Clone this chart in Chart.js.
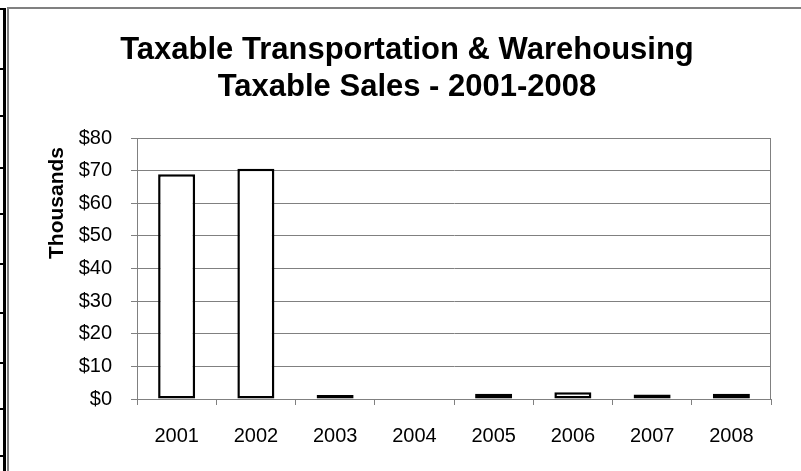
<!DOCTYPE html>
<html lang="en">
  <head>
    <meta charset="UTF-8" />
    <title>Taxable Transportation & Warehousing</title>
    <script src="https://cdn.jsdelivr.net/npm/chart.js"></script>
    <style>
      html, body {
        margin: 0;
        padding: 0;
        width: 801px;
        height: 471px;
        overflow: hidden;
        background: #fff;
      }
      #frame {
        position: absolute;
        left: 7px;
        top: 7px;
        border-top: 2px solid #808080;
        border-left: 2px solid #808080;
        width: 796px;
        height: 470px;
      }
      #rowline {
        position: absolute;
        left: 3px;
        top: 8px;
        width: 3px;
        height: 470px;
        background: #000;
      }
      .rowtick {
        position: absolute;
        left: 0;
        width: 6px;
        height: 2px;
        background: #000;
      }
    </style>
  </head>
  <body>
    <div id="rowline"></div>
    <div id="frame">
      <canvas id="salesChart" width="796" height="462"></canvas>
    </div>
    <script>
      // chart data
      const years = ["2001", "2002", "2003", "2004", "2005", "2006", "2007", "2008"];
      const sales = [68.9, 70.6, 1.2, 0, 1.6, 2.1, 1.4, 1.6]; // thousands of $
      const titleLines = ["Taxable Transportation & Warehousing", "Taxable Sales - 2001-2008"];
      const unitLabel = "Thousands";

      // spreadsheet row marks on the left edge
      const rowTicks = [8, 68, 115, 167, 213, 263, 312, 362, 408, 455];
      rowTicks.forEach(function (y) {
        const d = document.createElement("div");
        d.className = "rowtick";
        d.style.top = y + "px";
        document.body.appendChild(d);
      });

      const fontFamily = "'Liberation Sans', Arial, sans-serif";

      // plot border + "Thousands" label
      const extras = {
        id: "extras",
        beforeDatasetsDraw(chart) {
          const a = chart.chartArea;
          const c = chart.ctx;
          c.save();
          c.strokeStyle = "#808080";
          c.lineWidth = 1;
          c.strokeRect(a.left + 0.5, a.top + 0.5, a.right - a.left - 1, a.bottom - a.top);
          c.restore();
        },
        afterDraw(chart) {
          const c = chart.ctx;
          c.save();
          c.translate(48, 194);
          c.rotate(-Math.PI / 2);
          c.font = "bold 21px " + fontFamily;
          c.fillStyle = "#000";
          c.textAlign = "center";
          c.textBaseline = "middle";
          c.fillText(unitLabel, 0, 0);
          c.restore();
        },
      };

      const ctx = document.getElementById("salesChart").getContext("2d");
      new Chart(ctx, {
        type: "bar",
        data: {
          labels: years,
          datasets: [
            {
              data: sales,
              backgroundColor: "#fff",
              borderColor: "#000",
              borderWidth: 2.5,
              borderSkipped: false,
              barPercentage: 0.467,
              categoryPercentage: 1,
            },
          ],
        },
        options: {
          responsive: false,
          animation: false,
          layout: { padding: { left: 34, right: 34, top: 0, bottom: 0 } },
          plugins: {
            legend: { display: false },
            tooltip: { enabled: false },
            title: {
              display: true,
              text: titleLines,
              color: "#000",
              font: { family: fontFamily, size: 31, weight: "bold", lineHeight: "37px" },
              padding: { top: 23, bottom: 32 },
            },
          },
          scales: {
            x: {
              grid: {
                offset: true,
                drawOnChartArea: false,
                color: "#808080",
                tickLength: 6,
              },
              border: { color: "#808080", width: 1 },
              ticks: {
                color: "#000",
                padding: 19,
                font: { family: fontFamily, size: 20 },
                maxRotation: 0,
              },
              afterFit(scale) {
                scale.height = 72;
              },
            },
            y: {
              min: 0,
              max: 80,
              grid: { color: "#808080", tickLength: 6 },
              border: { color: "#606060", width: 1 },
              ticks: {
                stepSize: 10,
                color: "#000",
                padding: 19,
                font: { family: fontFamily, size: 20 },
                callback: function (v) {
                  return "$" + v;
                },
              },
              afterFit(scale) {
                scale.width = 94;
              },
            },
          },
        },
        plugins: [extras],
      });
    </script>
  </body>
</html>
